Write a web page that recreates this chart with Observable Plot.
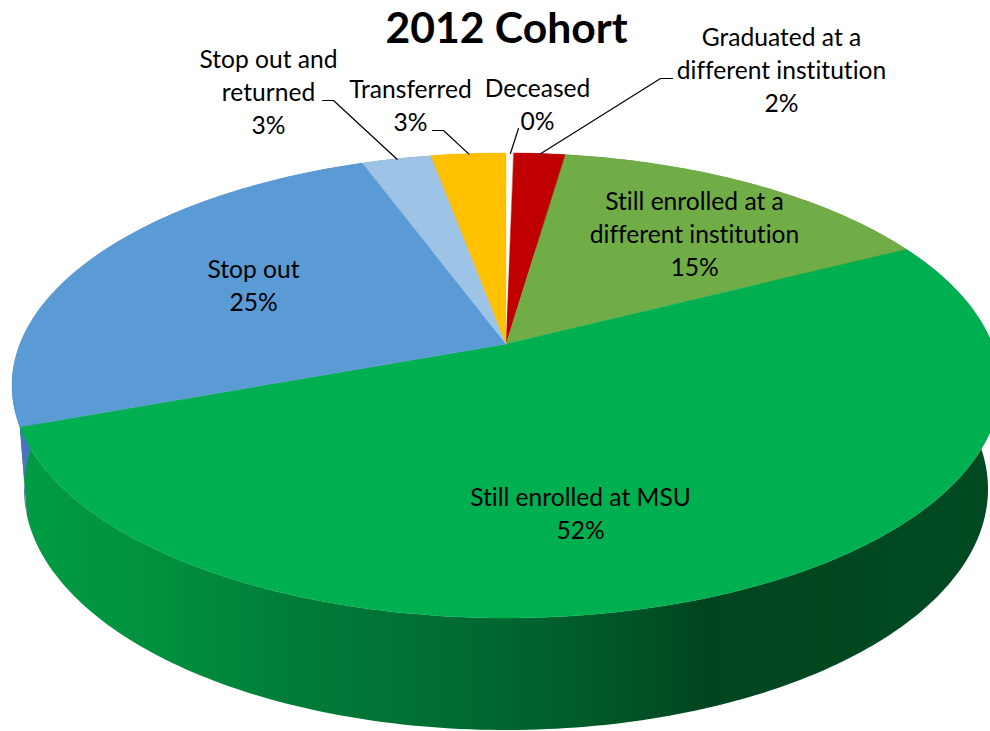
<!DOCTYPE html>
<html><head><meta charset="utf-8">
<style>html,body{margin:0;padding:0;background:#fff}svg{display:block}svg text{font-variant-ligatures:none}</style>
<script src="https://cdn.jsdelivr.net/npm/d3@7"></script>
<script src="https://cdn.jsdelivr.net/npm/@observablehq/plot@0.6"></script>
</head><body><script>
// Data, clockwise from 12 o'clock
const categories = ["Deceased","Graduated at a\ndifferent institution","Still enrolled at a\ndifferent institution","Still enrolled at MSU","Stop out","Stop out and\nreturned","Transferred"];
const shares = [0.3, 2.0, 15.2, 51.9, 25.0, 2.7, 2.9];
const colors = ["#ffffff","#c00000","#70ad47","#00b050","#5b9bd5","#9dc3e6","#ffc000"];
const wallColors = ["#ffffff","#8f0000","#527f34","url(#wall)","#4a74bb","#7394b0","#bd8e00"];

// Label layout: centre x and baseline of the last line
const labelX = [537, 781, 694, 580, 253, 268, 410];
const labelY = [129, 111, 275, 538, 310, 133, 130];
// Leader elbows (null: no leader)
const leaderFrom = [[[518,128]], [[672,78],[660,78]], null, null, null, [[322,100],[333,100]], [[432,130],[443,130]]];

// Pie geometry: a circle seen in perspective
const ellipsePoint = (pct, cxE, cyE, rx, ry, k) => {
  const t = pct / 100 * 2 * Math.PI, u = Math.sin(t), v = -Math.cos(t), w = 1 - k * v;
  return [cxE + rx * Math.sqrt(1 - k * k) * u / w, cyE + ry * (v - k) / w];
};
const cx = 506, topCy = 385.5, topRx = 494, topRy = 232.5, topK = 0.1785;
const botCy = 489, botRx = 482, botRy = 241, botK = 0.244;
const rim = pct => ellipsePoint(pct, cx, topCy, topRx, topRy, topK);
const floor = pct => ellipsePoint(pct, cx, botCy, botRx, botRy, botK);
const apex = [cx, topCy - topRy * topK];

let acc = 0;
const slices = shares.map((share, i) => {
  const start = acc; acc += share;
  const n = Math.max(4, Math.ceil(share * 4));
  const pcts = d3.range(n + 1).map(j => start + share * j / n);
  return {i, share, pcts, mid: rim(start + share / 2)};
});

const W = 990, H = 731;
const defs = () => {
  const s = d3.create("svg:defs");
  const g = s.append("linearGradient").attr("id", "wall").attr("gradientUnits", "userSpaceOnUse")
    .attr("x1", 0).attr("x2", W).attr("y1", 0).attr("y2", 0);
  [[20,"#009c42"],[150,"#00913e"],[300,"#007c38"],[450,"#006c32"],[560,"#005f2c"],[650,"#004f25"],[705,"#00451f"],[990,"#004a22"]]
    .forEach(([x, c]) => g.append("stop").attr("offset", x / W).attr("stop-color", c));
  return s.node();
};

const chart = Plot.plot({
  width: W, height: H, margin: 0,
  x: {axis: null, domain: [0, W], range: [0, W]},
  y: {axis: null, domain: [0, H], range: [0, H]},
  style: {fontFamily: "Lato, sans-serif", background: "#fff", color: "#000"},
  marks: [
    defs,
    // side walls
    ...slices.map(s => Plot.area(s.pcts, {
      x1: d => rim(d)[0], y1: d => rim(d)[1],
      x2: d => floor(d)[0], y2: d => floor(d)[1],
      fill: wallColors[s.i]
    })),
    // top faces
    ...slices.map(s => Plot.area(s.pcts, {
      x1: d => rim(d)[0], y1: d => rim(d)[1],
      x2: () => apex[0], y2: () => apex[1],
      fill: colors[s.i], stroke: colors[s.i], strokeWidth: 0.4
    })),
    // leaders
    ...slices.filter(s => leaderFrom[s.i]).map(s => Plot.line([...leaderFrom[s.i], s.mid], {
      x: d => d[0], y: d => d[1], stroke: "#000", strokeWidth: 1.2
    })),
    // labels
    Plot.text(slices, {
      x: s => labelX[s.i], y: s => labelY[s.i],
      text: s => categories[s.i] + "\n" + Math.round(s.share) + "%",
      fontSize: 24.6, lineHeight: 1.33, lineAnchor: "bottom", textAnchor: "middle", fill: "#000"
    }),
    Plot.text(["2012 Cohort"], {
      x: () => 506, y: () => 42, text: d => d,
      fontSize: 42.7, fontWeight: 700, lineAnchor: "bottom", textAnchor: "middle", fill: "#000"
    })
  ]
});
document.body.appendChild(chart);
</script></body></html>
